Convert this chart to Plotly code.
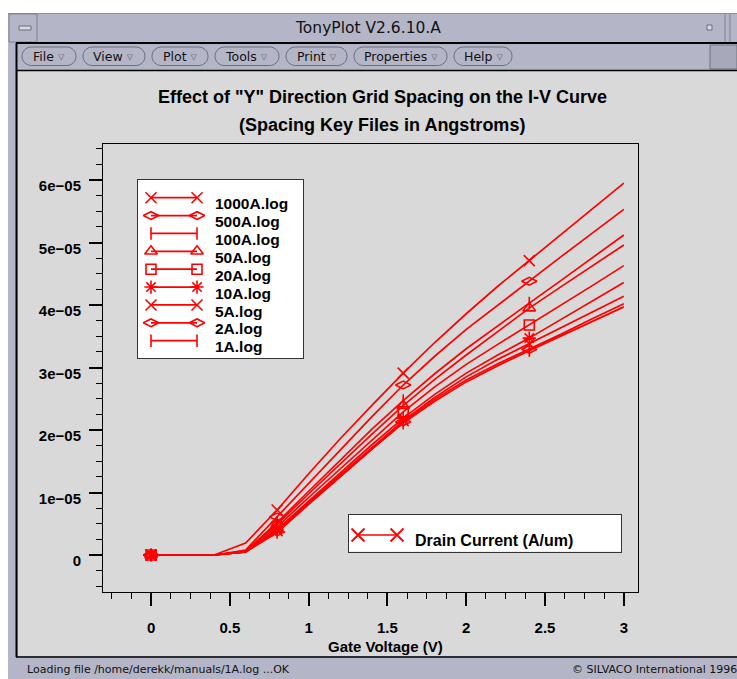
import plotly.graph_objects as go

# ---------------- data ----------------
VOLTS = [0.0, 0.2, 0.4, 0.6, 0.8, 1.0, 1.2, 1.4, 1.6, 1.8, 2.0, 2.2, 2.4, 2.6, 2.8, 3.0]
UNIT = 1e-5  # values below are in units of 1e-05 A/um

I_1000A = [0, 0, 0, 0.19, 0.72, 1.30, 1.86, 2.39, 2.91, 3.40, 3.86, 4.30, 4.71, 5.13, 5.54, 5.95]
I_500A = [0, 0, 0, 0.08, 0.61, 1.15, 1.68, 2.21, 2.72, 3.18, 3.61, 4.00, 4.38, 4.77, 5.15, 5.53]
I_100A = [0, 0, 0, 0.06, 0.52, 1.02, 1.52, 2.01, 2.47, 2.90, 3.30, 3.67, 4.03, 4.39, 4.76, 5.12]
I_50A = [0, 0, 0, 0.06, 0.49, 0.98, 1.46, 1.93, 2.39, 2.81, 3.20, 3.58, 3.95, 4.29, 4.63, 4.96]
I_20A = [0, 0, 0, 0.05, 0.45, 0.92, 1.38, 1.84, 2.29, 2.69, 3.05, 3.37, 3.68, 3.99, 4.31, 4.63]
I_10A = [0, 0, 0, 0.05, 0.41, 0.86, 1.31, 1.76, 2.19, 2.57, 2.91, 3.20, 3.47, 3.77, 4.07, 4.36]
I_5A = [0, 0, 0, 0.05, 0.39, 0.84, 1.28, 1.72, 2.15, 2.52, 2.85, 3.13, 3.38, 3.63, 3.89, 4.14]
I_2A = [0, 0, 0, 0.05, 0.37, 0.82, 1.26, 1.70, 2.13, 2.49, 2.80, 3.06, 3.29, 3.53, 3.78, 4.02]
I_1A = [0, 0, 0, 0.05, 0.36, 0.81, 1.25, 1.69, 2.11, 2.46, 2.77, 3.03, 3.27, 3.50, 3.74, 3.97]

SERIES_NAMES = ["1000A.log", "500A.log", "100A.log", "50A.log", "20A.log",
                "10A.log", "5A.log", "2A.log", "1A.log"]
SERIES_VALUES = [I_1000A, I_500A, I_100A, I_50A, I_20A, I_10A, I_5A, I_2A, I_1A]
SERIES_SYMBOLS = ["x-thin-open", "diamond-wide-open", "line-ns-open", "triangle-up-open",
                  "square-open", "asterisk-open", "x-thin-open", "diamond-wide-open", "line-ns-open"]
SYMBOL_SIZE = {"line-ns-open": 9, "square-open": 10, "diamond-wide-open": 11}
MARK_IDX = [0, 4, 8, 12]

X_TICKS = [0, 0.5, 1, 1.5, 2, 2.5, 3]
X_TICKTEXT = ["0", "0.5", "1", "1.5", "2", "2.5", "3"]
Y_TICKS = [0, 1e-5, 2e-5, 3e-5, 4e-5, 5e-5, 6e-5]
Y_TICKTEXT = ["0", "1e\u221205", "2e\u221205", "3e\u221205", "4e\u221205", "5e\u221205", "6e\u221205"]
X_MINOR = [i * 0.125 for i in range(-2, 25)]
Y_MINOR = [i * 2.5e-6 for i in range(-2, 27)]

TITLE1 = 'Effect of "Y" Direction Grid Spacing on the I-V Curve'
TITLE2 = "(Spacing Key Files in Angstroms)"
XLABEL = "Gate Voltage (V)"
QTY_LABEL = "Drain Current (A/um)"
MENUS = ["File", "View", "Plot", "Tools", "Print", "Properties", "Help"]

# ---------------- layout helpers (pixel -> paper) ----------------
W, H = 737, 679
def px(x): return x / W
def py(y): return 1 - y / H

RED = "#ff0000"
LAV = "#b4b6c8"
PANEL = "#d9d9d9"
FONT = "Liberation Sans"
UIFONT = "DejaVu Sans"

fig = go.Figure()

# main curves
for name, vals, sym in zip(SERIES_NAMES, SERIES_VALUES, SERIES_SYMBOLS):
    yv = [v * UNIT for v in vals]
    fig.add_trace(go.Scatter(x=VOLTS, y=yv, mode="lines", name=name,
                             line=dict(color=RED, width=1.7), showlegend=False,
                             hoverinfo="skip"))
    fig.add_trace(go.Scatter(x=[VOLTS[i] for i in MARK_IDX], y=[yv[i] for i in MARK_IDX],
                             mode="markers", name=name, showlegend=False, hoverinfo="skip",
                             marker=dict(symbol=sym, size=SYMBOL_SIZE.get(sym, 11), color=RED,
                                         line=dict(color=RED, width=1.6))))

# legend key (series) on its own small axes
for i, (name, sym) in enumerate(zip(SERIES_NAMES, SERIES_SYMBOLS)):
    fig.add_trace(go.Scatter(x=[0, 1], y=[i, i], xaxis="x2", yaxis="y2", mode="lines+markers",
                             showlegend=False, hoverinfo="skip",
                             line=dict(color=RED, width=1.7),
                             marker=dict(symbol=sym, size=SYMBOL_SIZE.get(sym, 11), color=RED,
                                         line=dict(color=RED, width=1.6))))
# quantity key
fig.add_trace(go.Scatter(x=[0, 1], y=[0, 0], xaxis="x3", yaxis="y3", mode="lines+markers",
                         showlegend=False, hoverinfo="skip",
                         line=dict(color=RED, width=1.5),
                         marker=dict(symbol="x-thin-open", size=13, color=RED,
                                     line=dict(color=RED, width=1.8))))

shapes = []
def rect(x0, y0, x1, y1, fill=None, line=None, lw=1):
    shapes.append(dict(type="rect", xref="paper", yref="paper",
                       x0=px(x0), x1=px(x1), y0=py(y1), y1=py(y0),
                       fillcolor=fill if fill else "rgba(0,0,0,0)",
                       line=dict(color=line if line else "rgba(0,0,0,0)", width=lw if line else 0),
                       layer="below"))
def hline(x0, x1, y, color="black", lw=1.5):
    shapes.append(dict(type="line", xref="paper", yref="paper", x0=px(x0), x1=px(x1),
                       y0=py(y), y1=py(y), line=dict(color=color, width=lw), layer="below"))
def vline(x, y0, y1, color="black", lw=1.5):
    shapes.append(dict(type="line", xref="paper", yref="paper", x0=px(x), x1=px(x),
                       y0=py(y0), y1=py(y1), line=dict(color=color, width=lw), layer="below"))
def pill(x0, x1, y0, y1, fill, line):
    r = (y1 - y0) / 2.0
    k = 0.5523 * r
    ym = (y0 + y1) / 2.0
    def P(x, y): return "%.5f,%.5f" % (px(x), py(y))
    d = ("M" + P(x0 + r, y0) + " L" + P(x1 - r, y0) +
         " C" + P(x1 - r + k, y0) + " " + P(x1, ym - k) + " " + P(x1, ym) +
         " C" + P(x1, ym + k) + " " + P(x1 - r + k, y1) + " " + P(x1 - r, y1) +
         " L" + P(x0 + r, y1) +
         " C" + P(x0 + r - k, y1) + " " + P(x0, ym + k) + " " + P(x0, ym) +
         " C" + P(x0, ym - k) + " " + P(x0 + r - k, y0) + " " + P(x0 + r, y0) + " Z")
    shapes.append(dict(type="path", xref="paper", yref="paper", path=d,
                       fillcolor=fill, line=dict(color=line, width=1), layer="below"))

# window chrome
rect(8, 13, 737, 679, fill=LAV)
hline(8, 737, 13.5, color="#8c8ea0", lw=1)
rect(9, 14, 37, 42, line="#80828f", lw=1)
rect(19, 26, 31, 30, fill="#d8d9e4", line="#6a6c7a", lw=1)
rect(707, 25, 712, 30, fill="#d8d9e4", line="#6a6c7a", lw=1)
vline(725, 14, 42, color="#80828f", lw=1)
vline(730, 14, 42, color="#80828f", lw=1)
hline(16, 737, 43, color="black", lw=2)
vline(16.5, 43, 657, color="black", lw=2)
rect(710, 45, 737, 69, fill="#a7a9bb", line="#70727f", lw=1)
rect(18, 70, 737, 656, fill=PANEL)
hline(17, 737, 70.5, color="black", lw=1.5)
hline(16, 737, 657, color="black", lw=1.5)

MENU_X = [(22, 76), (83, 145), (152, 208), (215, 279), (286, 347), (354, 447), (454, 512)]
annotations = []
for label, (a, b) in zip(MENUS, MENU_X):
    pill(a, b, 47, 65.5, LAV, "#6a6c7a")
    annotations.append(dict(xref="paper", yref="paper", x=px((a + b) / 2), y=py(56.5),
                            text=label + ' <span style="color:#7a7c8a">\u25bf</span>',
                            showarrow=False, xanchor="center", yanchor="middle",
                            font=dict(family=UIFONT, size=12.5, color="#111")))

annotations.append(dict(xref="paper", yref="paper", x=px(368), y=py(28),
                        text="TonyPlot V2.6.10.A", showarrow=False, xanchor="center",
                        yanchor="middle", font=dict(family=UIFONT, size=15.5, color="#111")))
annotations.append(dict(xref="paper", yref="paper", x=px(25), y=py(669),
                        text="Loading file /home/derekk/manuals/1A.log ...OK", showarrow=False,
                        xanchor="left", yanchor="middle",
                        font=dict(family=UIFONT, size=11, color="#111")))
annotations.append(dict(xref="paper", yref="paper", x=px(739), y=py(669),
                        text="\u00a9 SILVACO International 1996", showarrow=False,
                        xanchor="right", yanchor="middle",
                        font=dict(family=UIFONT, size=11, color="#111")))

# chart titles
annotations.append(dict(xref="paper", yref="paper", x=px(382), y=py(97),
                        text="<b>" + TITLE1 + "</b>", showarrow=False, xanchor="center",
                        yanchor="middle", font=dict(family=FONT, size=18, color="black")))
annotations.append(dict(xref="paper", yref="paper", x=px(382), y=py(125),
                        text="<b>" + TITLE2 + "</b>", showarrow=False, xanchor="center",
                        yanchor="middle", font=dict(family=FONT, size=18, color="black")))
annotations.append(dict(xref="paper", yref="paper", x=px(386), y=py(646),
                        text="<b>" + XLABEL + "</b>", showarrow=False, xanchor="center",
                        yanchor="middle", font=dict(family=FONT, size=15, color="black")))

# legend key labels
for i, name in enumerate(SERIES_NAMES):
    annotations.append(dict(xref="x2", yref="y2", x=1.35, y=i + 0.34, text="<b>" + name + "</b>",
                            showarrow=False, xanchor="left", yanchor="middle",
                            font=dict(family=FONT, size=15.5, color="black")))
annotations.append(dict(xref="x3", yref="y3", x=1.42, y=5.5, text="<b>" + QTY_LABEL + "</b>",
                        showarrow=False, xanchor="left", yanchor="middle",
                        font=dict(family=FONT, size=16, color="black")))

tickfont = dict(family=FONT, size=15, color="black", weight="bold")
hidden = dict(showgrid=False, zeroline=False, showticklabels=False, ticks="",
              showline=True, mirror=True, linecolor="#333", linewidth=1,
              fixedrange=True, automargin=False)

fig.update_layout(
    width=W, height=H,
    margin=dict(l=0, r=0, t=0, b=0, pad=0),
    paper_bgcolor="white", plot_bgcolor="white",
    showlegend=False,
    xaxis=dict(domain=[px(103), px(638)], anchor="y", range=[-0.305, 3.09],
               tickmode="array", tickvals=X_TICKS, ticktext=X_TICKTEXT,
               ticks="outside", ticklen=13, tickwidth=2, tickcolor="black",
               minor=dict(tickmode="array", tickvals=X_MINOR, ticks="outside", ticklen=6,
                          tickwidth=1, tickcolor="black", showgrid=False),
               showline=True, linecolor="black", linewidth=1, mirror=True,
               showgrid=False, zeroline=False, tickfont=tickfont,
               ticklabelstandoff=9, automargin=False, fixedrange=True),
    yaxis=dict(domain=[py(592), py(144)], anchor="x", range=[-5.92e-6, 6.576e-5],
               tickmode="array", tickvals=Y_TICKS, ticktext=Y_TICKTEXT,
               ticks="outside", ticklen=13, tickwidth=2, tickcolor="black",
               minor=dict(tickmode="array", tickvals=Y_MINOR, ticks="outside", ticklen=6,
                          tickwidth=1, tickcolor="black", showgrid=False),
               showline=True, linecolor="black", linewidth=1, mirror=True,
               showgrid=False, zeroline=False, tickfont=tickfont,
               ticklabelstandoff=5, ticklabelshift=6, automargin=False, fixedrange=True),
    xaxis2=dict(domain=[px(138), px(303)], anchor="y2", range=[-0.2826, 3.304], **hidden),
    yaxis2=dict(domain=[py(358), py(180)], anchor="x2", range=[8.968, -0.99], **hidden),
    xaxis3=dict(domain=[px(349), px(621)], anchor="y3", range=[-0.2308, 6.744], **hidden),
    yaxis3=dict(domain=[py(551.5), py(515)], anchor="x3", range=[16.5, -20], **hidden),
    shapes=shapes,
    annotations=annotations,
)

fig.write_html("out.html")
